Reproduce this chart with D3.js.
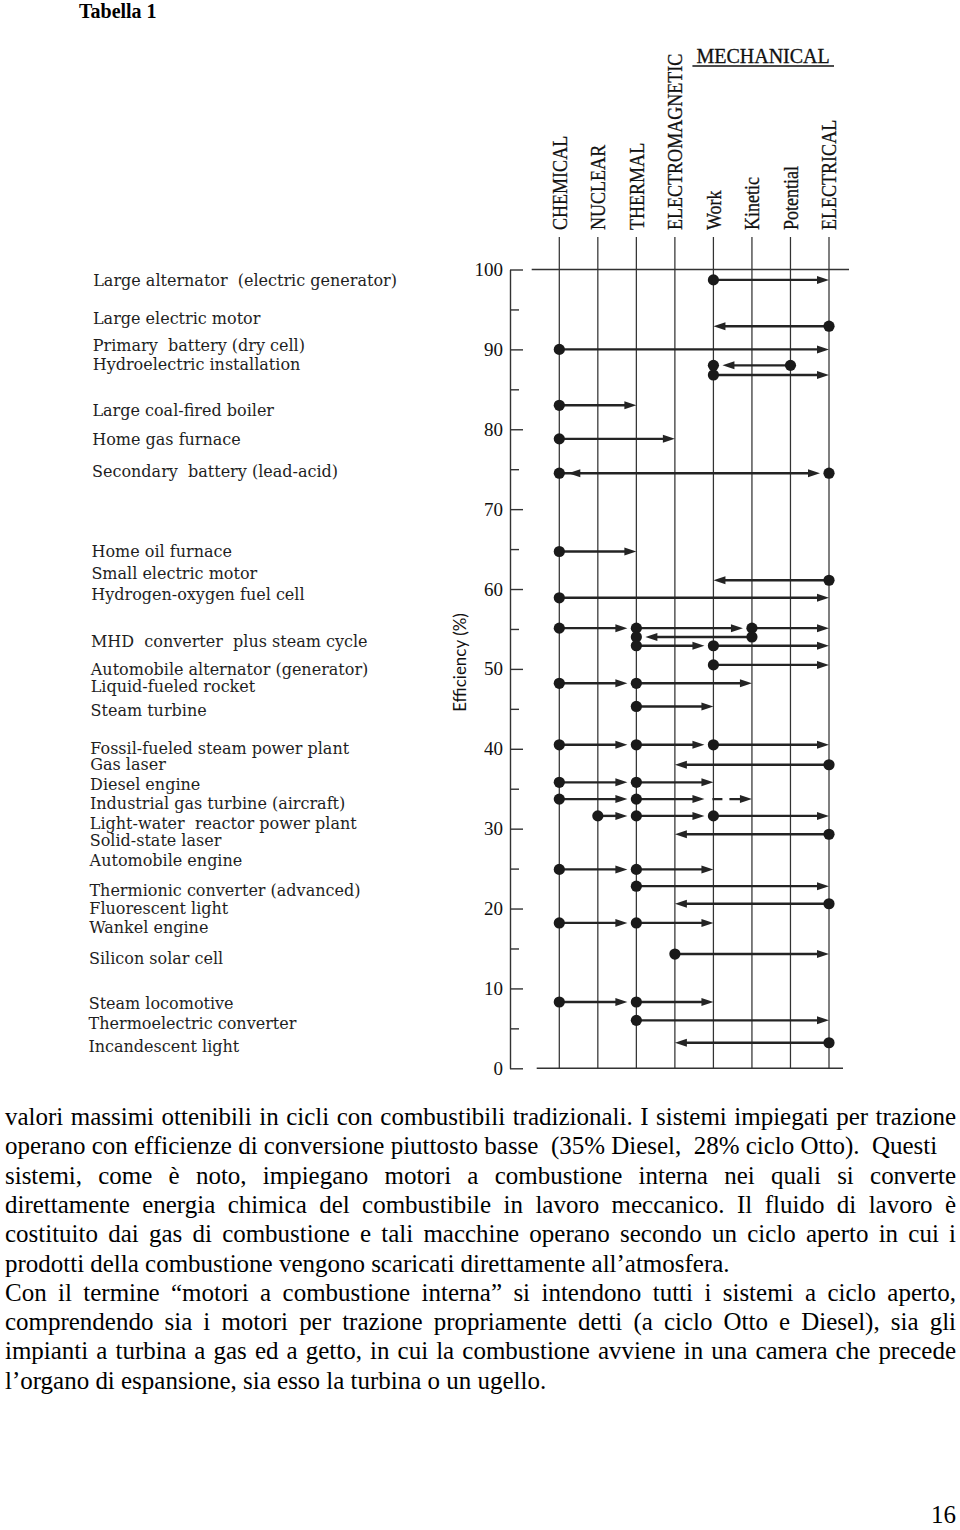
<!DOCTYPE html>
<html><head><meta charset="utf-8">
<script src="https://cdn.jsdelivr.net/npm/d3@7"></script>
<style>
html,body{margin:0;padding:0;background:#fff;}
svg{display:block;}
text{white-space:pre;}
</style></head>
<body>
<svg id="c" width="960" height="1530"></svg>
<script>
// ---------- data ----------
const forms = ["CHEMICAL","NUCLEAR","THERMAL","ELECTROMAGNETIC","Work","Kinetic","Potential","ELECTRICAL"];
const mechanicalForms = ["Work","Kinetic","Potential"];
const groupTitle = "MECHANICAL";
const effTicks = [0,10,20,30,40,50,60,70,80,90,100];
const effMinorTicks = [5,15,25,35,45,55,65,75,85,95];
const yTitle = "Efficiency (%)";

const devices = [
  "Large alternator  (electric generator)",
  "Large electric motor",
  "Primary  battery (dry cell)",
  "Hydroelectric installation",
  "Large coal-fired boiler",
  "Home gas furnace",
  "Secondary  battery (lead-acid)",
  "Home oil furnace",
  "Small electric motor",
  "Hydrogen-oxygen fuel cell",
  "MHD  converter  plus steam cycle",
  "Automobile alternator (generator)",
  "Liquid-fueled rocket",
  "Steam turbine",
  "Fossil-fueled steam power plant",
  "Gas laser",
  "Diesel engine",
  "Industrial gas turbine (aircraft)",
  "Light-water  reactor power plant",
  "Solid-state laser",
  "Automobile engine",
  "Thermionic converter (advanced)",
  "Fluorescent light",
  "Wankel engine",
  "Silicon solar cell",
  "Steam locomotive",
  "Thermoelectric converter",
  "Incandescent light"
];
// efficiency level (%) at which each device name is printed
const labelLevel = [98.7,93.9,90.5,88.2,82.4,78.8,74.7,64.7,62.0,59.4,53.5,50.0,47.8,44.8,40.1,38.1,35.5,33.2,30.7,28.6,26.1,22.3,20.0,17.6,13.8,8.1,5.6,2.7];

// [device index, efficiency %, chain of energy forms, flag]
const chains = [
  [0, 98.7, ["Work","ELECTRICAL"]],
  [1, 92.9, ["ELECTRICAL","Work"]],
  [2, 90.0, ["CHEMICAL","ELECTRICAL"]],
  [3, 88.0, ["Potential","Work"], "endDot"],
  [3, 86.8, ["Work","ELECTRICAL"]],
  [4, 83.0, ["CHEMICAL","THERMAL"]],
  [5, 78.8, ["CHEMICAL","ELECTROMAGNETIC"]],
  [6, 74.5, ["CHEMICAL","ELECTRICAL"], "both"],
  [7, 64.7, ["CHEMICAL","THERMAL"]],
  [8, 61.1, ["ELECTRICAL","Work"]],
  [9, 58.9, ["CHEMICAL","ELECTRICAL"]],
  [10, 55.1, ["CHEMICAL","THERMAL","Kinetic","ELECTRICAL"]],
  [10, 54.0, ["Kinetic","THERMAL"], "endDot"],
  [10, 52.9, ["THERMAL","Work","ELECTRICAL"]],
  [11, 50.5, ["Work","ELECTRICAL"]],
  [12, 48.2, ["CHEMICAL","THERMAL","Kinetic"]],
  [13, 45.3, ["THERMAL","Work"]],
  [14, 40.5, ["CHEMICAL","THERMAL","Work","ELECTRICAL"]],
  [15, 38.0, ["ELECTRICAL","ELECTROMAGNETIC"]],
  [16, 35.8, ["CHEMICAL","THERMAL","Work"]],
  [17, 33.7, ["CHEMICAL","THERMAL","Work","Kinetic"], "dashLast"],
  [18, 31.6, ["NUCLEAR","THERMAL","Work","ELECTRICAL"]],
  [19, 29.3, ["ELECTRICAL","ELECTROMAGNETIC"]],
  [20, 24.9, ["CHEMICAL","THERMAL","Work"]],
  [21, 22.8, ["THERMAL","ELECTRICAL"]],
  [22, 20.6, ["ELECTRICAL","ELECTROMAGNETIC"]],
  [23, 18.2, ["CHEMICAL","THERMAL","Work"]],
  [24, 14.3, ["ELECTROMAGNETIC","ELECTRICAL"]],
  [25, 8.3, ["CHEMICAL","THERMAL","Work"]],
  [26, 6.0, ["THERMAL","ELECTRICAL"]],
  [27, 3.2, ["ELECTRICAL","ELECTROMAGNETIC"]]
];

const pageTitle = "Tabella 1";
const pageNumber = "16";
const bodyLines = [
  ["valori massimi ottenibili in cicli con combustibili tradizionali.  I sistemi impiegati per trazione", true],
  ["operano con efficienze di conversione piuttosto basse  (35% Diesel,  28% ciclo Otto).  Questi", false],
  ["sistemi, come è noto, impiegano motori a combustione interna nei quali si converte", true],
  ["direttamente energia chimica del combustibile in lavoro meccanico. Il fluido di lavoro è", true],
  ["costituito dai gas di combustione e tali macchine operano secondo un ciclo aperto in cui i", true],
  ["prodotti della combustione vengono scaricati direttamente all’atmosfera.", false],
  ["Con il termine “motori a combustione interna” si intendono tutti i sistemi a ciclo aperto,", true],
  ["comprendendo sia i motori per trazione propriamente detti (a ciclo Otto e Diesel), sia gli", true],
  ["impianti a turbina a gas ed a getto, in cui la combustione avviene in una camera che precede", true],
  ["l’organo di espansione, sia esso la turbina o un ugello.", false]
];

// ---------- drawing ----------
const svg = d3.select("#c");
const ink = "#242424";
const serif = "'Liberation Serif','Times New Roman',serif";

svg.append("text").attr("x",79).attr("y",18)
  .style("font-family",serif).style("font-weight","bold").style("font-size","20px")
  .attr("fill","#000").text(pageTitle);

const x = d3.scalePoint().domain(forms).range([559.3, 829]);
const y = d3.scaleLinear().domain([0,100]).range([1068.3, 269.5]);

const chart = svg.append("g");

// vertical lines for each energy form
chart.selectAll("line.form").data(forms).join("line")
  .attr("class","form")
  .attr("x1",d=>x(d)).attr("x2",d=>x(d))
  .attr("y1",237).attr("y2",y(0))
  .attr("stroke","#333").attr("stroke-width",1.25);

// horizontal lines at 100 and 0
chart.append("line").attr("x1",x.range()[0]-27.6).attr("x2",x.range()[1]+20)
  .attr("y1",y(100)).attr("y2",y(100)).attr("stroke","#333").attr("stroke-width",1.4);
chart.append("line").attr("x1",x.range()[0]-22.6).attr("x2",x.range()[1]+14)
  .attr("y1",y(0)).attr("y2",y(0)).attr("stroke","#333").attr("stroke-width",1.4);

// form headers (rotated)
chart.selectAll("text.form").data(forms).join("text")
  .attr("class","form")
  .attr("transform",d=>`translate(${x(d)},230) rotate(-90) scale(0.82,1)`)
  .attr("dy","0.34em")
  .style("font-family",serif).style("font-size","22px")
  .attr("fill","#111").attr("stroke","#111").attr("stroke-width",0.3)
  .text(d=>d);

// MECHANICAL group title
const mx0 = x(mechanicalForms[0]) - 21, mx1 = x("ELECTRICAL") + 5;
chart.append("text").attr("x",mx0+4).attr("y",62.7)
  .style("font-family",serif).style("font-size","20px").attr("fill","#111")
  .attr("stroke","#111").attr("stroke-width",0.3)
  .text(groupTitle);
chart.append("line").attr("x1",mx0).attr("x2",mx1).attr("y1",66).attr("y2",66)
  .attr("stroke","#111").attr("stroke-width",1.4);

// y axis
const axisG = chart.append("g").attr("transform","translate(510,0)");
axisG.call(d3.axisLeft(y).tickValues(effTicks).tickSize(-13).tickSizeOuter(0).tickPadding(7).tickFormat(d3.format("d")));
axisG.select(".domain").attr("stroke","#333").attr("stroke-width",1.4);
axisG.selectAll(".tick line").attr("stroke","#333").attr("stroke-width",1.4);
axisG.selectAll(".tick text").style("font-family",serif).style("font-size","19px").attr("fill","#111");
const minorG = chart.append("g").attr("transform","translate(510,0)");
minorG.call(d3.axisLeft(y).tickValues(effMinorTicks).tickSize(-9).tickSizeOuter(0).tickFormat(""));
minorG.select(".domain").remove();
minorG.selectAll(".tick line").attr("stroke","#333").attr("stroke-width",1.4);

chart.append("text")
  .attr("transform",`translate(466,${y(50.8)}) rotate(-90)`)
  .attr("text-anchor","middle")
  .style("font-family","Lato,'Open Sans',sans-serif").style("font-size","17px")
  .attr("fill","#111").text(yTitle);

// device labels
chart.selectAll("text.dev").data(devices).join("text")
  .attr("class","dev")
  .attr("x",(d,i)=>88.3 + 0.05*labelLevel[i])
  .attr("y",(d,i)=>y(labelLevel[i]))
  .attr("dy","0.36em")
  .style("font-family","'DejaVu Serif',serif").style("font-size","16px")
  .attr("fill","#1e1e1e").text(d=>d);

// conversion arrows
const shafts = [], heads = [], dots = [];
const DOTGAP = 9, HL = 12, HW = 4;
chains.forEach(([dev, eff, path, flag]) => {
  const yy = y(eff);
  for (let i = 0; i < path.length-1; i++) {
    const x1 = x(path[i]), x2 = x(path[i+1]);
    const dir = Math.sign(x2 - x1);
    const last = i === path.length-2;
    const dashed = flag === "dashLast" && last;
    const dotStart = !dashed;
    const dotEnd = !last || flag === "endDot" || flag === "both";
    const tip = dotEnd ? x2 - dir*DOTGAP : x2;
    let sx = x1;
    if (dotStart) dots.push([x1, yy]);
    if (last && (flag === "endDot" || flag === "both")) dots.push([x2, yy]);
    if (flag === "both") {
      const stip = x1 + dir*DOTGAP;
      heads.push([stip, yy, -dir]);
    }
    if (dashed) sx = x1 - 1;
    shafts.push({x1: sx, x2: tip - dir*8, y: yy, dashed});
    heads.push([tip, yy, dir]);
  }
});

chart.selectAll("line.shaft").data(shafts).join("line")
  .attr("class","shaft")
  .attr("x1",d=>d.x1).attr("x2",d=>d.x2).attr("y1",d=>d.y).attr("y2",d=>d.y)
  .attr("stroke",ink).attr("stroke-width",2.4)
  .attr("stroke-dasharray",d=>d.dashed ? "10,7,200" : null);

chart.selectAll("path.head").data(heads).join("path")
  .attr("class","head")
  .attr("d",([tx,ty,dir]) => `M${tx},${ty} L${tx-dir*HL},${ty-HW} L${tx-dir*HL},${ty+HW} Z`)
  .attr("fill",ink);

chart.selectAll("circle.dot").data(dots).join("circle")
  .attr("class","dot")
  .attr("cx",d=>d[0]).attr("cy",d=>d[1]).attr("r",5.6)
  .attr("fill","#1a1a1a");

// ---------- body text ----------
const body = svg.append("g");
const probe = body.append("text").style("font-family",serif).style("font-size","20px").text(bodyLines[5][0]);
const fs = 20 * 725 / probe.node().getComputedTextLength();
probe.remove();
const left = 5, right = 956, base0 = 1125, lh = 29.3;
bodyLines.forEach(([str, just], i) => {
  const t = body.append("text").attr("y", base0 + i*lh)
    .style("font-family",serif).style("font-size",fs+"px").attr("fill","#000");
  if (!just) { t.attr("x",left).text(str); return; }
  const words = str.split(/\s+/);
  const spans = words.map(w => t.append("tspan").text(w));
  const widths = spans.map(s => s.node().getComputedTextLength());
  const total = d3.sum(widths);
  const gap = (right - left - total) / (words.length - 1);
  let cx = left;
  spans.forEach((s, k) => { s.attr("x", cx); cx += widths[k] + gap; });
});
svg.append("text").attr("x",956).attr("y",1523).attr("text-anchor","end")
  .style("font-family",serif).style("font-size",fs+"px").attr("fill","#000").text(pageNumber);
</script>
</body></html>
